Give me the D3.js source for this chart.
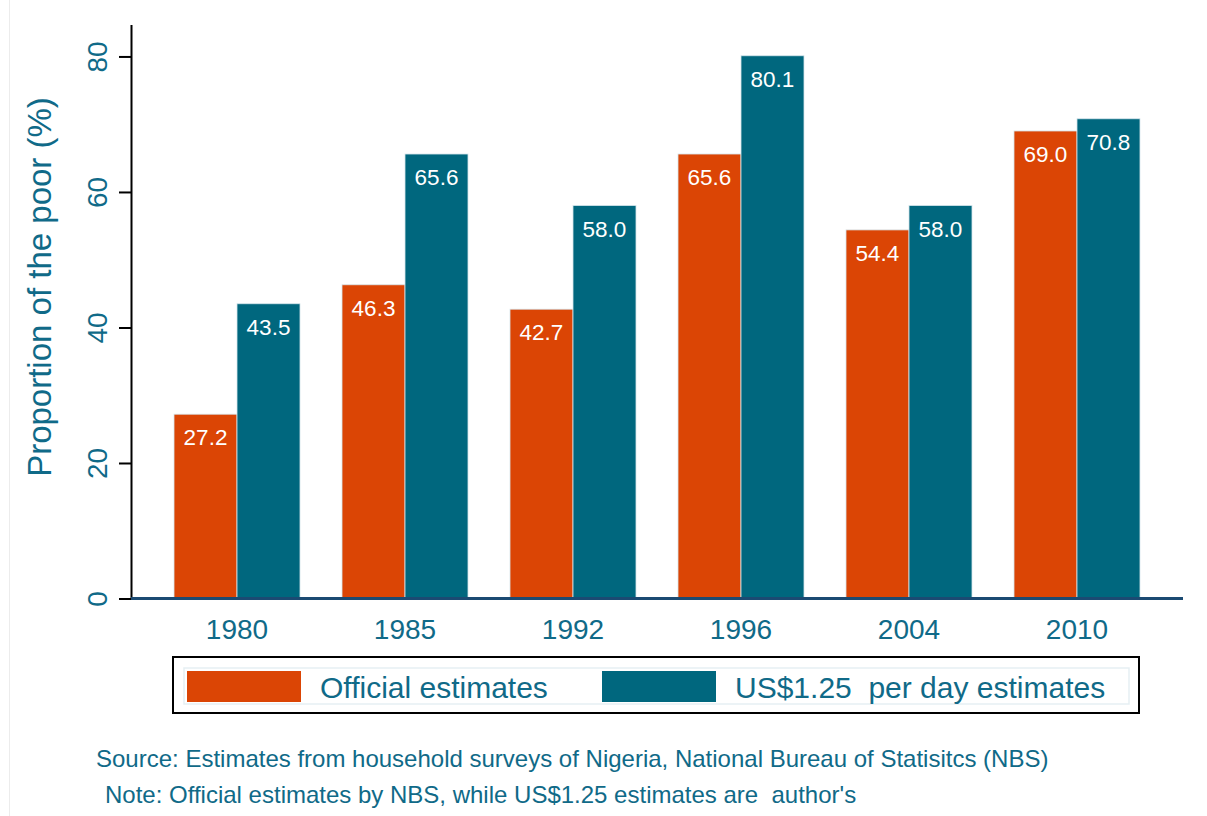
<!DOCTYPE html>
<html>
<head>
<meta charset="utf-8">
<script src="https://cdn.jsdelivr.net/npm/d3@7"></script>
<style>
  body { margin: 0; background: #fff; }
  svg { font-family: Arial, "Liberation Sans", sans-serif; }
</style>
</head>
<body>
<div class="poverty-chart"></div>
<script>
// data
const years = ["1980", "1985", "1992", "1996", "2004", "2010"];
const seriesNames = ["Official estimates", "US$1.25  per day estimates"];
const officialValues = [27.2, 46.3, 42.7, 65.6, 54.4, 69.0];
const usdValues = [43.5, 65.6, 58.0, 80.1, 58.0, 70.8];
const yTicks = [0, 20, 40, 60, 80];
const seriesColors = ["#db4505", "#00677e"];
const textColor = "#106a88";

const width = 1207;
const height = 816;

const svg = d3.select(".poverty-chart")
    .append("svg")
    .attr("width", width)
    .attr("height", height);

// faint left border like the screenshot edge
svg.append("line")
    .attr("x1", 9.5).attr("x2", 9.5)
    .attr("y1", 0).attr("y2", height)
    .attr("stroke", "#ececec");

// scales
const xScale = d3.scaleBand()
    .domain(years)
    .range([131, 1183])
    .paddingInner(0.25)
    .paddingOuter(0.256);

const xSub = d3.scaleBand()
    .domain([0, 1])
    .range([0, xScale.bandwidth()]);

const yScale = d3.scaleLinear()
    .domain([0, 84.7])
    .range([598.5, 24.6]);

const rows = years.map((y, i) => ({year: y, values: [officialValues[i], usdValues[i]]}));

// bars
const groups = svg.selectAll(".group")
    .data(rows)
    .enter()
    .append("g")
    .attr("class", "group")
    .attr("transform", d => `translate(${xScale(d.year)},0)`);

groups.selectAll("rect")
    .data(d => d.values.map((v, k) => ({v: v, k: k})))
    .enter()
    .append("rect")
    .attr("x", d => xSub(d.k))
    .attr("y", d => yScale(d.v))
    .attr("width", xSub.bandwidth())
    .attr("height", d => yScale(0) - yScale(d.v))
    .attr("fill", d => seriesColors[d.k])
    .attr("stroke", "#d6e6ec")
    .attr("stroke-width", 0.8);

// value labels inside the top of each bar
groups.selectAll(".val")
    .data(d => d.values.map((v, k) => ({v: v, k: k})))
    .enter()
    .append("text")
    .attr("class", "val")
    .attr("x", d => xSub(d.k) + xSub.bandwidth() / 2)
    .attr("y", d => yScale(d.v) + 31)
    .attr("text-anchor", "middle")
    .attr("fill", "#fff")
    .style("font-size", "22.5px")
    .text(d => d.v.toFixed(1));

// y axis
const yAxis = svg.append("g")
    .attr("transform", "translate(131,0)")
    .call(d3.axisLeft(yScale).tickValues(yTicks).tickSize(12).tickSizeOuter(0));

yAxis.select(".domain").attr("stroke", "#000").attr("stroke-width", 2);
yAxis.selectAll(".tick line").attr("stroke", "#000").attr("stroke-width", 2);
yAxis.selectAll(".tick text")
    .attr("x", null).attr("dy", null)
    .attr("transform", "translate(-24,0) rotate(-90)")
    .attr("text-anchor", "middle")
    .attr("fill", textColor)
    .style("font-size", "28px")
    .style("font-family", "Arial, 'Liberation Sans', sans-serif");

// baseline
svg.append("line")
    .attr("x1", 131).attr("x2", 1183)
    .attr("y1", yScale(0)).attr("y2", yScale(0))
    .attr("stroke", "#1b4a72")
    .attr("stroke-width", 3);

// x labels
svg.selectAll(".xlab")
    .data(years)
    .enter()
    .append("text")
    .attr("class", "xlab")
    .attr("x", d => xScale(d) + xScale.bandwidth() / 2)
    .attr("y", 639)
    .attr("text-anchor", "middle")
    .attr("fill", textColor)
    .style("font-size", "28px")
    .text(d => d);

// y title
svg.append("text")
    .attr("transform", "translate(51,287) rotate(-90)")
    .attr("text-anchor", "middle")
    .attr("fill", textColor)
    .style("font-size", "33px")
    .text("Proportion of the poor (%)");

// legend
svg.append("rect")
    .attr("x", 173).attr("y", 657)
    .attr("width", 966).attr("height", 56)
    .attr("fill", "#fff")
    .attr("stroke", "#000")
    .attr("stroke-width", 2);

svg.append("rect")
    .attr("x", 184).attr("y", 668)
    .attr("width", 945).attr("height", 36)
    .attr("fill", "none")
    .attr("stroke", "#e6eff3")
    .attr("stroke-width", 1.5);

const legendX = [187, 602];
seriesNames.forEach((name, i) => {
    svg.append("rect")
        .attr("x", legendX[i]).attr("y", 671)
        .attr("width", 114).attr("height", 31)
        .attr("fill", seriesColors[i]);
    svg.append("text")
        .attr("x", legendX[i] + 133).attr("y", 698)
        .attr("fill", textColor)
        .style("font-size", "30px")
        .style("white-space", "pre")
        .text(name);
});

// notes
svg.append("text")
    .attr("x", 96).attr("y", 767)
    .attr("fill", textColor)
    .style("font-size", "24px")
    .text("Source: Estimates from household surveys of Nigeria, National Bureau of Statisitcs (NBS)");

svg.append("text")
    .attr("x", 105).attr("y", 803)
    .attr("fill", textColor)
    .style("font-size", "24px")
    .style("white-space", "pre")
    .text("Note: Official estimates by NBS, while US$1.25 estimates are  author's");
</script>
</body>
</html>
